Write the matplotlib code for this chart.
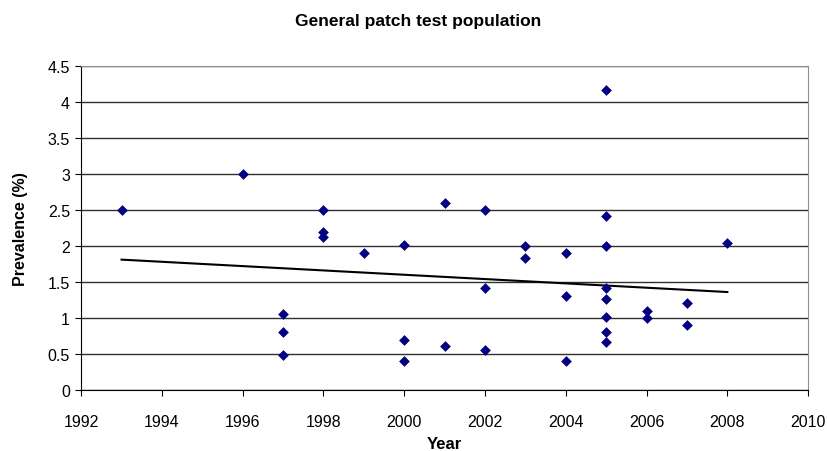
import numpy as np
import matplotlib
matplotlib.use("Agg")
import matplotlib.pyplot as plt

plt.rcParams['font.family'] = ['Liberation Sans', 'DejaVu Sans']

years = [1993, 1996, 1997, 1997, 1997, 1998, 1998, 1998, 1999,
         2000, 2000, 2000, 2001, 2001,
         2002, 2002, 2002, 2003, 2003, 2004, 2004, 2004,
         2005, 2005, 2005, 2005, 2005, 2005, 2005, 2005,
         2006, 2006, 2007, 2007, 2008]
prevalence = [2.50, 3.00, 1.05, 0.81, 0.49, 2.50, 2.19, 2.13, 1.90,
              2.02, 0.69, 0.40, 2.60, 0.61,
              2.50, 1.41, 0.56, 2.00, 1.83, 1.90, 1.31, 0.40,
              4.16, 2.41, 2.00, 1.41, 1.26, 1.01, 0.81, 0.66,
              1.10, 1.00, 1.21, 0.90, 2.04]
# linear trendline as drawn in the reference
trend_years = [1993, 2008]
trend_values = [1.81, 1.36]
x_ticks = [1992, 1994, 1996, 1998, 2000, 2002, 2004, 2006, 2008, 2010]
y_ticks = [0, 0.5, 1, 1.5, 2, 2.5, 3, 3.5, 4, 4.5]
y_labels = ['0', '0.5', '1', '1.5', '2', '2.5', '3', '3.5', '4', '4.5']

fig = plt.figure(figsize=(8.28, 4.52), dpi=100)
ax = fig.add_axes([0.098, 0.135, 0.878, 0.717])

ax.plot(trend_years, trend_values, color='black', lw=1.5, zorder=2)
ax.scatter(years, prevalence, marker='D', s=30, color='#000080', zorder=3, linewidths=0)

ax.set_xlim(1992, 2010)
ax.set_ylim(0, 4.5)
ax.set_xticks(x_ticks)
ax.set_yticks(y_ticks)
ax.set_yticklabels(y_labels)
ax.yaxis.grid(True, color='#303030', lw=1)
ax.set_axisbelow(True)
for s in ['top', 'right']:
    ax.spines[s].set_color('#909090')
for s in ['left', 'bottom']:
    ax.spines[s].set_color('black')
ax.tick_params(axis='both', direction='out', length=4, labelsize=11.5, color='black')
ax.tick_params(axis='x', pad=13)
ax.tick_params(axis='y', pad=4)

ax.set_xlabel('Year', fontsize=12, fontweight='bold', labelpad=5)
ax.set_ylabel('Prevalence (%)', fontsize=11.5, fontweight='bold', labelpad=14)
fig.suptitle('General patch test population', x=0.505, y=0.97, fontsize=12.5, fontweight='bold')

fig.savefig('out.png', dpi=100)
